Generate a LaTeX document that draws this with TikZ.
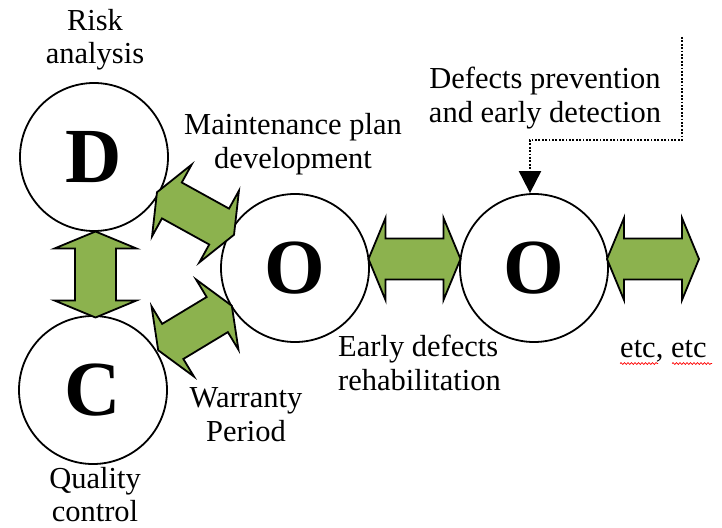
\documentclass[tikz,border=0pt]{standalone}
\usepackage{fontspec}
\setmainfont{Liberation Serif}
\usetikzlibrary{calc,arrows.meta,decorations.pathmorphing}
\definecolor{arrgreen}{RGB}{140,178,78}
\begin{document}
\begin{tikzpicture}[x=1pt,y=-1pt,
  circ/.style={circle,draw,line width=1.8pt,fill=white,minimum size=148pt,inner sep=0pt,
    font=\fontsize{78}{78}\selectfont\bfseries},
  lbl/.style={align=center,inner sep=0pt,font=\fontsize{30.5}{33.5}\selectfont},
  greenarrow/.style={draw,fill=arrgreen,line width=1.8pt,line join=miter},
  dotline/.style={line width=2pt,dash pattern=on 1.8pt off 1.6pt},
  squiggle/.style={draw=red,line width=0.7pt,decorate,decoration={snake,amplitude=0.9pt,segment length=3.5pt}},
  pics/dblarr/.style={code={
    \pgfmathsetmacro\hl{#1/2}
    \draw[greenarrow] (-\hl,0) -- (-\hl+17,41) -- (-\hl+17,20.5) -- (\hl-17,20.5)
      -- (\hl-17,41) -- (\hl,0) -- (\hl-17,-41) -- (\hl-17,-20.5)
      -- (-\hl+17,-20.5) -- (-\hl+17,-41) -- cycle;
  }}
]
\useasboundingbox (0,0) rectangle (722,527);

% circles
\node[circ] (D)  at (94,157)  {D};
\node[circ] (C)  at (93,390)  {C};
\node[circ] (O1) at (295,268) {O};
\node[circ] (O2) at (534,268) {O};
\coordinate (more) at (772,268);

% green double arrows
\path let \p1=($(O1)-(D)$), \n1={atan2(\y1,\x1)} in
  pic[rotate=\n1] at ($(D)!0.5!(O1)+(1,1)$) {dblarr=88};
\path let \p1=($(O1)-(C)$), \n1={atan2(\y1,\x1)} in
  pic[rotate=\n1] at ($(C)!0.5!(O1)+(1,-1)$) {dblarr=86};
\path pic[rotate=90] at ($(D)!0.5!(C)+(2,1)$) {dblarr=86};
\path pic at ($(O1)!0.5!(O2)+(0,-9)$) {dblarr=92};
\path pic at ($(O2)!0.5!(more)+(0,-9)$) {dblarr=92};

% labels
\node[lbl] (risk) at (95,39.6) {Risk\\analysis};
\node[lbl] (maint) at (293,144.4) {Maintenance plan\\development};
\node[lbl] (prev) at (545,97.9) {Defects prevention\\and early detection};
\node[lbl,align=left,anchor=west] (rehab) at (338,363) {Early defects\\rehabilitation};
\node[lbl,anchor=base west] (etc) at (620,357) {etc, etc};
\node[lbl] (warr) at (246,414.9) {Warranty\\Period};
\node[lbl,text depth=0pt,anchor=south] (qual) at (95,522) {Quality\\control};

% spell-check squiggles
\draw[squiggle] (620,363.5) -- (658,363.5);
\draw[squiggle] (672,363.5) -- (712,363.5);

% dotted pointer
\coordinate (src) at (682,37);
\coordinate (bend) at (530,140);
\draw[dotline,-{Triangle[length=22pt,width=22pt]}] (src) |- (bend) -- (bend |- O2.north);
\end{tikzpicture}
\end{document}
